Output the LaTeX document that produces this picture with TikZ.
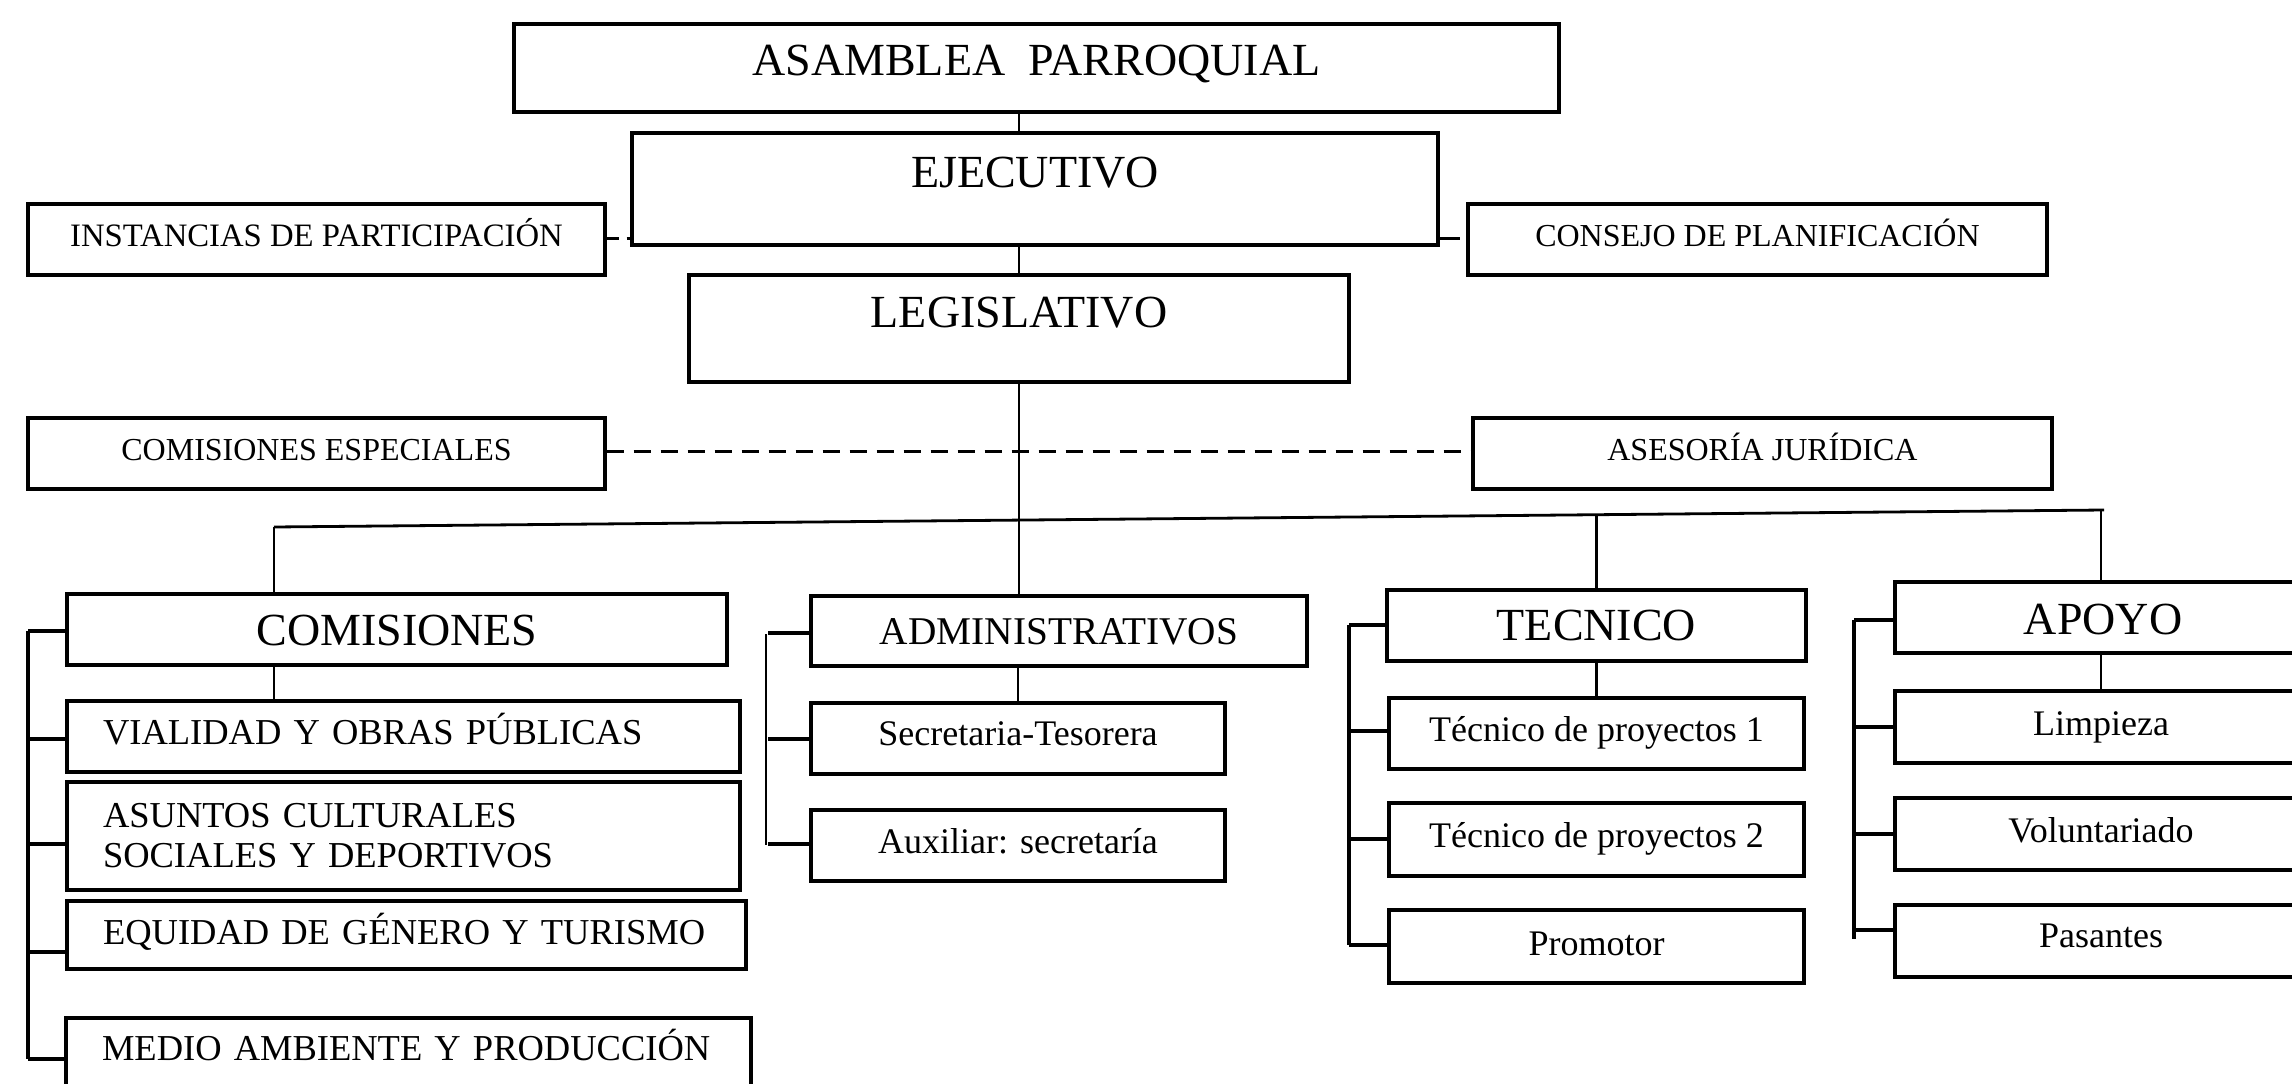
\documentclass[tikz,border=0pt]{standalone}
\usepackage{fontspec}
\setmainfont{Liberation Serif}
\usetikzlibrary{calc}
\begin{document}
\begin{tikzpicture}[x=1pt,y=-1pt,
  box/.style={draw, line width=3.2pt, inner sep=0pt, rectangle, text=black},
  bigf/.style={font=\fontsize{46}{50}\selectfont},
  admf/.style={font=\fontsize{39.3}{44}\selectfont},
  smallf/.style={font=\fontsize{32}{36}\selectfont},
  medf/.style={font=\fontsize{36.5}{40}\selectfont},
  lowf/.style={font=\fontsize{36}{40}\selectfont},
  lefttext/.style={align=left, inner xsep=36pt, text width=#1},
  conn/.style={line width=2.8pt},
  tick/.style={line width=3.2pt},
  spine/.style={line width=3.4pt},
  thinspine/.style={line width=1.3pt},
  dashline/.style={line width=3pt, dash pattern=on 17pt off 10pt}
]
\useasboundingbox (0,0) rectangle (2292,1084);
\clip (0,0) rectangle (2292,1084);
\fill[white] (0,0) rectangle (2292,1084);

% top chain
\node[box,bigf,minimum width=1045pt,minimum height=88pt,text height=34pt,text depth=20pt] (asam) at (1036.5,68) {ASAMBLEA\ \ PARROQUIAL};
\node[box,bigf,minimum width=806pt,minimum height=112pt,text height=34pt,text depth=38pt] (ejec) at (1035,189) {EJECUTIVO};
\node[box,bigf,minimum width=660pt,minimum height=107pt,text height=34pt,text depth=37pt] (legis) at (1019,328.5) {LEGISLATIVO};

% side boxes
\node[box,font=\fontsize{32.7}{36}\selectfont,minimum width=577pt,minimum height=71pt,text height=24pt,text depth=11pt] (inst) at (316.5,239.5) {INSTANCIAS DE PARTICIPACIÓN};
\node[box,smallf,minimum width=579pt,minimum height=71pt,text height=24pt,text depth=11pt] (cons) at (1757.5,239.5) {CONSEJO DE PLANIFICACIÓN};
\node[box,smallf,minimum width=577pt,minimum height=71pt,text height=24pt,text depth=11pt] (comesp) at (316.5,453.5) {COMISIONES ESPECIALES};
\node[box,smallf,minimum width=579pt,minimum height=71pt,text height=24pt,text depth=11pt] (ases) at (1762.5,453.5) {ASESORÍA JURÍDICA};

% second level heads
\node[box,bigf,minimum width=660pt,minimum height=71pt,text height=34pt,text depth=2pt] (comis) at (397,629.5) {COMISIONES};
\node[box,admf,minimum width=496pt,minimum height=70pt,text height=30pt,text depth=4pt] (admin) at (1059,631) {ADMINISTRATIVOS};
\node[box,bigf,minimum width=419pt,minimum height=71pt,text height=34pt,text depth=4pt] (tec) at (1596.5,625.5) {TECNICO};
\node[box,bigf,minimum width=416pt,minimum height=71pt,text height=34pt,text depth=1pt] (apoyo) at (2103,617.5) {APOYO};

% comisiones list
\node[box,medf,lefttext=601pt,minimum width=673pt,minimum height=71pt,text height=27pt,text depth=12pt] (vial) at (403.5,736.5) {VIALIDAD Y OBRAS PÚBLICAS};
\node[box,medf,lefttext=601pt,minimum width=673pt,minimum height=108pt,text height=27pt,text depth=45pt] (asun) at (403.5,836) {ASUNTOS CULTURALES\\SOCIALES Y DEPORTIVOS};
\node[box,medf,lefttext=607pt,minimum width=679pt,minimum height=68pt,text height=27pt,text depth=9pt] (equi) at (406.5,935) {EQUIDAD DE GÉNERO Y TURISMO};
\node[box,medf,lefttext=613pt,minimum width=685pt,minimum height=71pt,text height=27pt,text depth=14pt] (medio) at (408.5,1053.5) {MEDIO AMBIENTE Y PRODUCCIÓN};

% administrativos list
\node[box,lowf,minimum width=414pt,minimum height=71pt,text height=27pt,text depth=14pt] (secr) at (1018,738.5) {Secretaria-Tesorera};
\node[box,lowf,minimum width=414pt,minimum height=71pt,text height=27pt,text depth=12pt] (aux) at (1018,845.5) {Auxiliar: secretaría};

% tecnico list
\node[box,lowf,minimum width=415pt,minimum height=71pt,text height=27pt,text depth=12pt] (tec1) at (1596.5,733.5) {Técnico de proyectos 1};
\node[box,lowf,minimum width=415pt,minimum height=73pt,text height=27pt,text depth=12pt] (tec2) at (1596.5,839.5) {Técnico de proyectos 2};
\node[box,lowf,minimum width=415pt,minimum height=73pt,text height=27pt,text depth=10pt] (prom) at (1596.5,946.5) {Promotor};

% apoyo list
\node[box,lowf,minimum width=412pt,minimum height=72pt,text height=27pt,text depth=11pt] (limp) at (2101,727) {Limpieza};
\node[box,lowf,minimum width=412pt,minimum height=72pt,text height=27pt,text depth=11pt] (volu) at (2101,834) {Voluntariado};
\node[box,lowf,minimum width=412pt,minimum height=72pt,text height=27pt,text depth=15pt] (pasa) at (2101,941) {Pasantes};

% main vertical connectors
\draw[conn] (asam.south -| legis) -- (ejec.north -| legis);
\draw[conn] (ejec.south -| legis) -- (legis.north);
\draw[conn] (legis.south) -- (legis.south |- admin.north);

% dashed relations
\draw[dashline, dash pattern=on 12pt off 8pt] (inst.east |- 0,238) -- (ejec.west |- 0,238);
\draw[dashline, dash pattern=on 20pt off 10pt] (ejec.east |- 0,238) -- (cons.west |- 0,238);
\draw[dashline] (comesp.east |- 0,451) -- (ases.west |- 0,451);

% slanted distribution line
\coordinate (hl) at (274,527);
\coordinate (hr) at (2104,510);
\coordinate (ht) at (1596.5,514.7);
\coordinate (ha) at (2101,510.1);
\draw[conn] (hl) -- (hr);
\draw[conn] (hl) -- (hl |- comis.north);
\draw[conn] (ht) -- (tec.north);
\draw[conn] (ha) -- (ha |- apoyo.north);

% drops from heads to first items
\draw[conn] (comis.south -| hl) -- (vial.north -| hl);
\draw[conn] (admin.south -| secr) -- (secr.north);
\draw[conn] (tec.south) -- (tec1.north);
\draw[conn] (apoyo.south -| limp) -- (limp.north);

% comisiones bracket
\draw[spine] (28,631) -- (28,1059);
\draw[tick] (28,631) -- (comis.west |- 0,631);
\draw[tick] (28,739) -- (vial.west |- 0,739);
\draw[tick] (28,844) -- (asun.west |- 0,844);
\draw[tick] (28,952) -- (equi.west |- 0,952);
\draw[tick] (28,1059) -- (medio.west |- 0,1059);

% administrativos bracket
\draw[thinspine] (766,634) -- (766,845);
\draw[tick] (768,633) -- (admin.west |- 0,633);
\draw[tick] (768,739) -- (secr.west |- 0,739);
\draw[tick] (768,844) -- (aux.west |- 0,844);

% tecnico bracket
\draw[spine] (1349,625) -- (1349,945);
\draw[tick] (1349,625) -- (tec.west |- 0,625);
\draw[tick] (1349,731) -- (tec1.west |- 0,731);
\draw[tick] (1349,839) -- (tec2.west |- 0,839);
\draw[tick] (1349,945) -- (prom.west |- 0,945);

% apoyo bracket
\draw[spine] (1854,620) -- (1854,939);
\draw[tick] (1854,620) -- (apoyo.west |- 0,620);
\draw[tick] (1854,727) -- (limp.west |- 0,727);
\draw[tick] (1854,834) -- (volu.west |- 0,834);
\draw[tick] (1854,930) -- (pasa.west |- 0,930);
\end{tikzpicture}
\end{document}
